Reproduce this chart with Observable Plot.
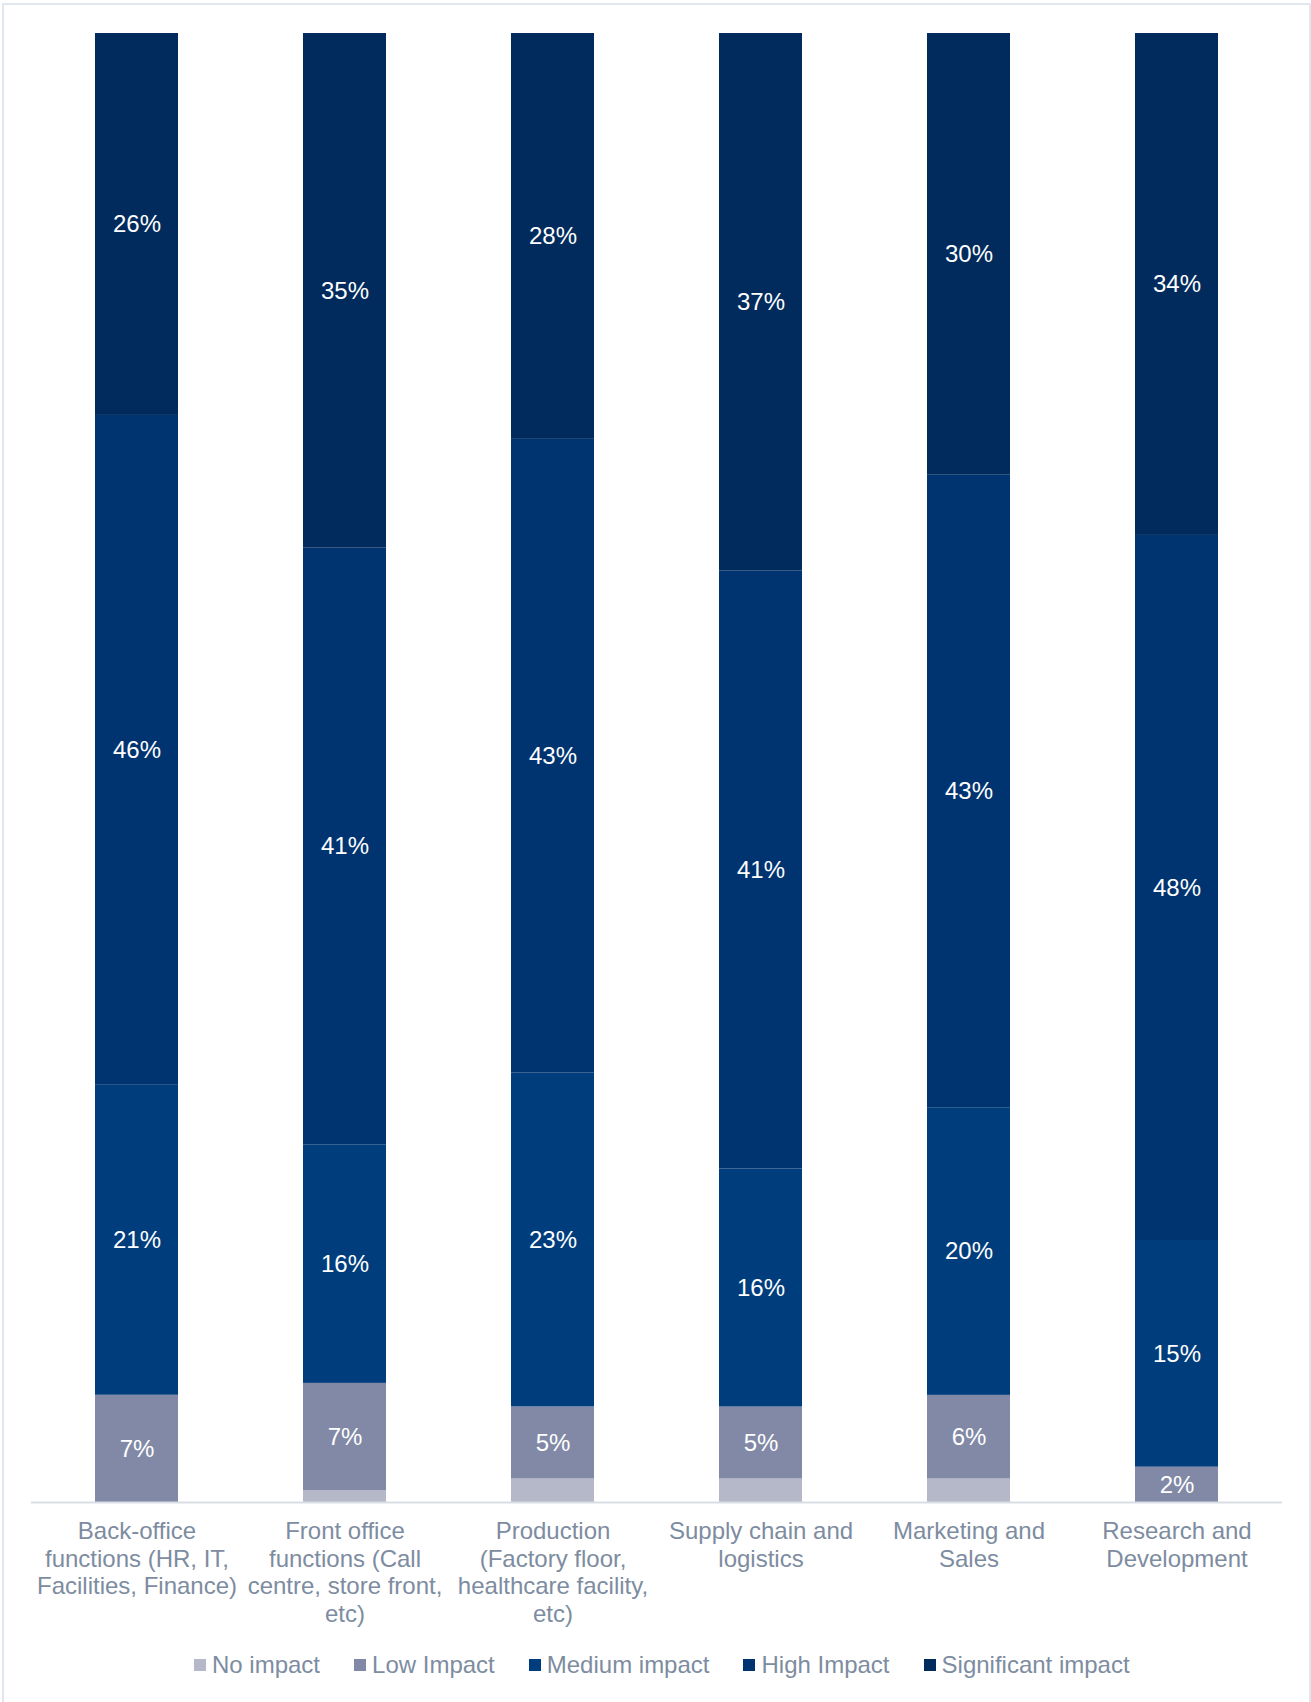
<!DOCTYPE html>
<html><head><meta charset="utf-8">
<script src="https://cdn.jsdelivr.net/npm/d3@7"></script>
<script src="https://cdn.jsdelivr.net/npm/@observablehq/plot@0.6"></script>
<style>
html,body{margin:0;padding:0;background:#fff;}
body{width:1311px;height:1702px;position:relative;overflow:hidden;font-family:"Liberation Sans",Arial,sans-serif;}
#frame{position:absolute;left:2px;top:3px;width:1309px;height:1760px;box-sizing:border-box;border:2px solid #e2e7ed;pointer-events:none;}
#chart{position:absolute;left:0;top:0;}
#legend{position:absolute;left:194px;top:1650px;display:flex;align-items:center;font-size:24px;color:#7d8ca0;line-height:30px;white-space:nowrap;}
.item{display:flex;align-items:center;margin-right:34px;}
.sw{width:12px;height:12px;margin-right:6px;flex:none;}
</style></head><body>
<div id="chart"></div><div id="legend"></div><div id="frame"></div>
<script>
const categories = ["Back-office functions", "Front office functions", "Production", "Supply chain and logistics", "Marketing and Sales", "Research and Development"];
const tickLabels = [
  "Back-office\nfunctions (HR, IT,\nFacilities, Finance)",
  "Front office\nfunctions (Call\ncentre, store front,\netc)",
  "Production\n(Factory floor,\nhealthcare facility,\netc)",
  "Supply chain and\nlogistics",
  "Marketing and\nSales",
  "Research and\nDevelopment"
];
const levels = ["No impact", "Low Impact", "Medium impact", "High Impact", "Significant impact"];
const colors = ["#b4b8c9", "#8189a6", "#003d7c", "#003470", "#002b5c"];

const noImpact          = [0.0, 0.8, 1.6, 1.6, 1.6, 0.0];
const lowImpact         = [7.3, 7.3, 4.9, 4.9, 5.7, 2.4];
const mediumImpact      = [21.1, 16.2, 22.7, 16.2, 19.6, 15.4];
const highImpact        = [45.6, 40.6, 43.1, 40.7, 43.1, 47.9];
const significantImpact = [26.0, 35.0, 27.6, 36.6, 30.1, 34.1];

const series = [noImpact, lowImpact, mediumImpact, highImpact, significantImpact];
const rows = categories.flatMap((c, i) => levels.map((l, j) => ({category: c, level: l, value: series[j][i]})));

const font = '"Liberation Sans", Arial, sans-serif';
const chart = Plot.plot({
  width: 1311, height: 1640,
  marginTop: 33, marginBottom: 138, marginLeft: 31, marginRight: 29,
  style: {fontFamily: font, fontSize: "24px", color: "#7d8ca0", background: "transparent"},
  x: {domain: categories, paddingInner: 0.602, paddingOuter: 0.3, align: 0.5, label: null, axis: null},
  y: {domain: [0, 1], axis: null},
  color: {domain: levels, range: colors},
  marks: [
    Plot.barY(rows, Plot.stackY({x: "category", y: "value", fill: "level", order: levels, offset: "normalize"})),
    Plot.text(rows, Plot.stackY({x: "category", y: "value", z: "level", order: levels, offset: "normalize",
      text: d => d.level === "No impact" ? "" : Math.round(d.value) + "%", fill: "white", fontSize: 24})),
    Plot.ruleY([0], {stroke: "#d9dee5", strokeWidth: 2}),
    Plot.axisX({tickSize: 0, tickPadding: 17, fontSize: 24, lineHeight: 1.15, fill: "#7d8ca0",
      tickFormat: c => tickLabels[categories.indexOf(c)], label: null})
  ]
});
document.getElementById("chart").appendChild(chart);

const legend = document.getElementById("legend");
levels.forEach((l, j) => {
  const item = document.createElement("div");
  item.className = "item";
  const sw = document.createElement("span");
  sw.className = "sw";
  sw.style.background = colors[j];
  const t = document.createElement("span");
  t.textContent = l;
  item.appendChild(sw); item.appendChild(t);
  legend.appendChild(item);
});
</script>
</body></html>
